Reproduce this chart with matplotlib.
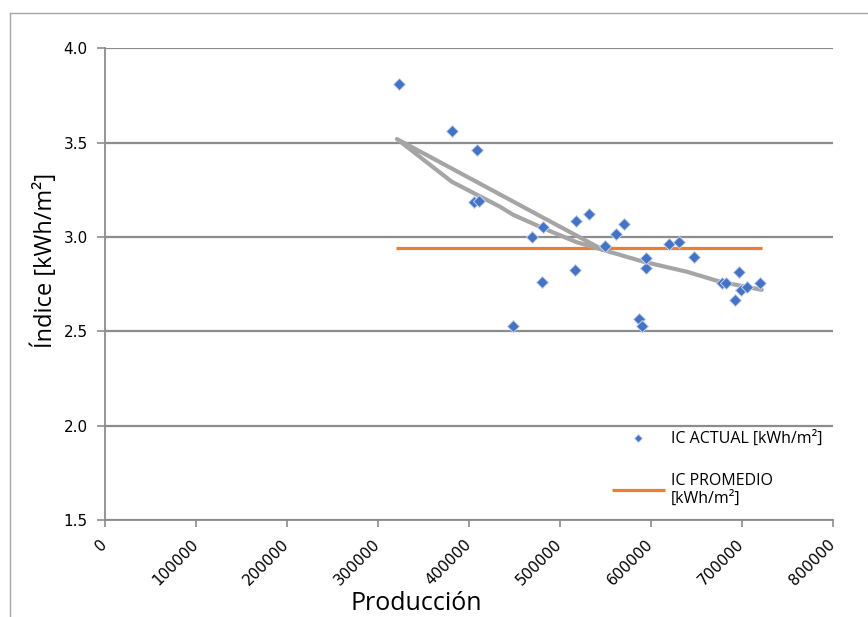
import matplotlib
matplotlib.use('Agg')
import matplotlib.pyplot as plt
from matplotlib.lines import Line2D

# IC ACTUAL points
produccion = [323700, 381600, 409400, 405700, 411500, 448500, 470100, 480700,
              481500, 517300, 518000, 532000, 549900, 561600, 570400, 586900,
              590900, 594600, 594900, 620200, 631200, 647600, 678100, 682800,
              692700, 696700, 698900, 706200, 720200]
ic_actual = [3.810, 3.563, 3.461, 3.187, 3.192, 2.528, 3.002, 2.763,
             3.055, 2.825, 3.083, 3.124, 2.952, 3.014, 3.069, 2.567,
             2.530, 2.837, 2.887, 2.965, 2.972, 2.894, 2.755, 2.758,
             2.668, 2.816, 2.719, 2.737, 2.758]

# average line
promedio_x = [320400, 722000]
promedio_y = [2.94, 2.94]

# grey trend line, vertices in drawing order
trend_x = [548000, 321300, 381500, 434300, 449200, 482200, 518800, 548000,
           592000, 639600, 676200, 722000]
trend_y = [2.931, 3.519, 3.293, 3.161, 3.117, 3.046, 2.972, 2.931,
           2.869, 2.816, 2.763, 2.720]

x_ticks = [0, 100000, 200000, 300000, 400000, 500000, 600000, 700000, 800000]
y_ticks = [1.5, 2.0, 2.5, 3.0, 3.5, 4.0]

W, H = 868, 617
fig = plt.figure(figsize=(W / 100, H / 100), dpi=100)
ax = fig.add_axes([104.5 / W, 1 - 520 / H, (832.7 - 104.5) / W, (520 - 48.3) / H])

grey = '#8c8c8c'
ax.plot(promedio_x, promedio_y, color='#ED7D31', lw=2.3, solid_capstyle='butt',
        label='IC PROMEDIO\n[kWh/m²]', zorder=2)
ax.plot(trend_x, trend_y, color='#A5A5A5', lw=3.0, solid_capstyle='round',
        solid_joinstyle='round', zorder=3)
ax.plot(produccion, ic_actual, ls='none', marker='D', ms=6.4, color='#4472C4',
        mec='#c5d3ee', mew=0.7, label='IC ACTUAL [kWh/m²]', zorder=4)

ax.set_xlim(0, 800000)
ax.set_ylim(1.5, 4.0)
ax.set_xticks(x_ticks)
ax.set_yticks(y_ticks)
ax.set_xticklabels([str(v) for v in x_ticks], rotation=45, ha='right',
                   rotation_mode='anchor', va='center', fontsize=11)
ax.set_yticklabels(['%.1f' % v for v in y_ticks], fontsize=11)
ax.tick_params(axis='x', length=5, color=grey, width=1.2, pad=11)
ax.tick_params(axis='y', length=6, color=grey, width=1.2, pad=6)

ax.grid(axis='y', color=grey, lw=1.6)
ax.set_axisbelow(True)
for side in ['top', 'right']:
    ax.spines[side].set_visible(False)
for side in ['left', 'bottom']:
    ax.spines[side].set_color(grey)
    ax.spines[side].set_linewidth(1.3)

fig.text(416 / W, 1 - 604 / H, 'Producción', ha='center', va='center',
         fontsize=18, family=['Open Sans', 'DejaVu Sans'])
fig.text(45 / W, 1 - 260 / H, 'Índice [kWh/m²]', ha='center', va='center',
         rotation=90, fontsize=17, family=['Open Sans', 'DejaVu Sans'])

handles, labels = ax.get_legend_handles_labels()
leg = fig.legend(handles[::-1], labels[::-1], loc='upper left',
                 bbox_to_anchor=(612 / W, 1 - 431 / H), bbox_transform=fig.transFigure,
                 frameon=False, borderpad=0, borderaxespad=0, handlelength=3.3,
                 handletextpad=0.4, labelspacing=1.6, markerscale=0.6,
                 prop={'family': ['Open Sans', 'DejaVu Sans'], 'size': 11.5})

# chart area border (cropped on right and bottom)
top_y = 1 - 12.7 / H
fig.add_artist(Line2D([10 / W, 1], [top_y, top_y], transform=fig.transFigure,
                      color='#a6a6a6', lw=1))
fig.add_artist(Line2D([10 / W, 10 / W], [0, top_y], transform=fig.transFigure,
                      color='#a6a6a6', lw=1))

fig.savefig('out.png', dpi=100)
